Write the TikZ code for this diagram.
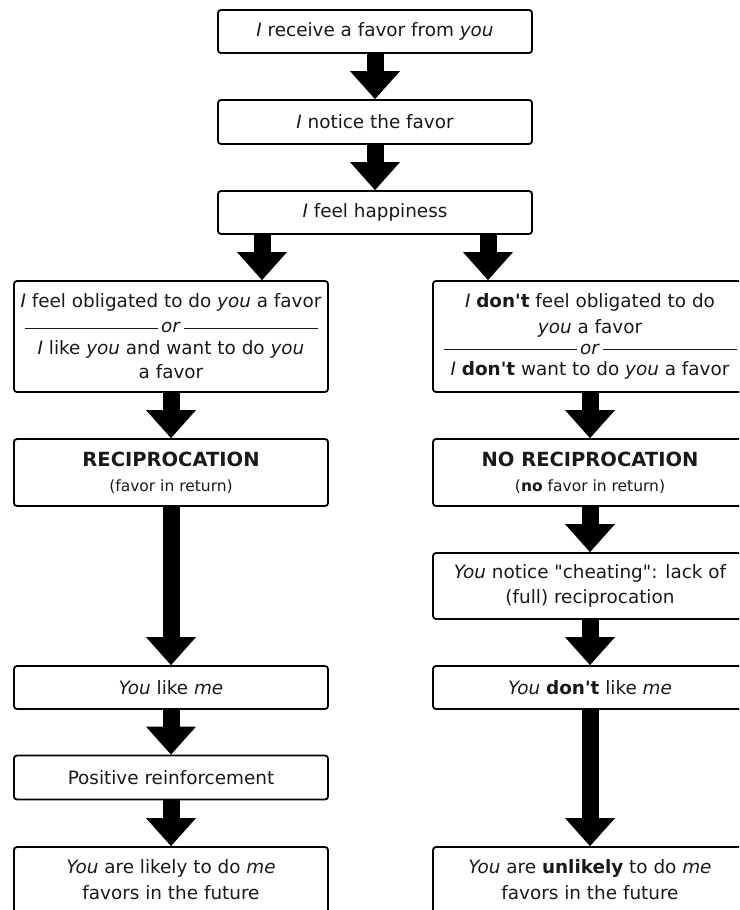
\documentclass[tikz,border=0pt]{standalone}
\usepackage{fontspec}
\setmainfont{DejaVu Sans}[Ligatures=TeXOff]
\usetikzlibrary{arrows.meta}
\newcommand\orsep{\hbox to 293pt{\leaders\hrule height 5.2pt depth -4.2pt\hfill\kern3pt\textit{or}\kern3pt\leaders\hrule height 5.2pt depth -4.2pt\hfill}}
\begin{document}
\begin{tikzpicture}[x=1pt,y=-1pt,
  box/.style={draw=black, line width=1.8pt, rounded corners=3pt, minimum width=314pt,
    inner sep=0pt, align=center, font=\fontsize{18.4}{24}\selectfont, text=black!90},
  fat/.style={line width=17pt, -{Triangle[width=50pt,length=28pt,line width=0pt]}}
]
\useasboundingbox (0,0) rectangle (739,910);
\clip (0,0) rectangle (739,910);

% centre column
\node[box, minimum height=43pt] (b1) at (375,31.5) {\textit{I} receive a favor from \textit{you}};
\node[box, minimum height=44pt] (b2) at (375,122) {\textit{I} notice the favor};
\node[box, minimum height=43pt] (b3) at (375,212.5) {\textit{I} feel happiness};

% left column
\node[box, minimum height=111pt] (l4) at (171,336.5)
  {\textit{I} feel obligated to do \textit{you} a favor\\[1pt]
   \orsep\\[-2pt]
   \textit{I} like \textit{you} and want to do \textit{you}\\
   a favor};
\node[box, minimum height=67pt] (l5) at (171,472.5)
  {{\fontsize{19.5}{24}\selectfont\bfseries RECIPROCATION}\\[1pt]
   {\fontsize{15.5}{18}\selectfont (favor in return)}};
\node[box, minimum height=43pt] (l7) at (171,687.5) {\textit{You} like \textit{me}};
\node[box, minimum height=44pt] (l8) at (171,777.5) {Positive reinforcement};
\node[box, minimum height=66pt, font=\fontsize{18.4}{26}\selectfont] (l9) at (171,880)
  {\textit{You} are likely to do \textit{me}\\ favors in the future};

% right column
\node[box, minimum height=111pt] (r4) at (590,336.5)
  {\textit{I} \textbf{don't} feel obligated to do\\[2pt]
   \textit{you} a favor\\[-3pt]
   \orsep\\[-3pt]
   \textit{I} \textbf{don't} want to do \textit{you} a favor};
\node[box, minimum height=67pt] (r5) at (590,472.5)
  {{\fontsize{19.5}{24}\selectfont\bfseries NO RECIPROCATION}\\[1pt]
   {\fontsize{15.5}{18}\selectfont (\textbf{no} favor in return)}};
\node[box, minimum height=66pt, font=\fontsize{18.4}{25}\selectfont] (r6) at (590,586)
  {\textit{You} notice "cheating": lack of\\ (full) reciprocation};
\node[box, minimum height=43pt] (r7) at (590,687.5) {\textit{You} \textbf{don't} like \textit{me}};
\node[box, minimum height=66pt, font=\fontsize{18.4}{26}\selectfont] (r9) at (590,880)
  {\textit{You} are \textbf{unlikely} to do \textit{me}\\ favors in the future};

% connectors
\draw[fat] (b1.south) -- (b2.north);
\draw[fat] (b2.south) -- (b3.north);
\draw[fat] ([xshift=-113pt]b3.south) -- ([xshift=-113pt]b3.south |- l4.north);
\draw[fat] ([xshift=113pt]b3.south) -- ([xshift=113pt]b3.south |- r4.north);
\draw[fat] (l4.south) -- (l5.north);
\draw[fat] (l5.south) -- (l7.north);
\draw[fat] (l7.south) -- (l8.north);
\draw[fat] (l8.south) -- (l9.north);
\draw[fat] (r4.south) -- (r5.north);
\draw[fat] (r5.south) -- (r6.north);
\draw[fat] (r6.south) -- (r7.north);
\draw[fat] (r7.south) -- (r9.north);
\end{tikzpicture}
\end{document}
